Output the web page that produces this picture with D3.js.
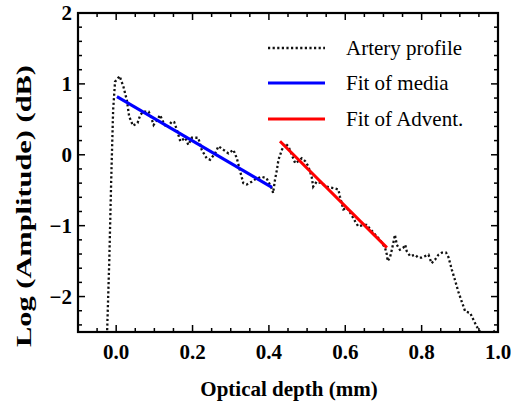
<!DOCTYPE html>
<html><head><meta charset="utf-8">
<script src="https://cdn.jsdelivr.net/npm/d3@7"></script>
<style>body{margin:0;background:#fff}svg{display:block}</style>
</head><body>
<script>
// Artery profile (optical depth mm, log amplitude dB)
const profileX = [-0.024,-0.018,-0.013,-0.008,-0.003,0.009,0.019,0.028,0.034,0.044,0.056,0.063,0.071,0.085,0.092,0.098,0.107,0.115,0.124,0.133,0.146,0.152,0.159,0.168,0.181,0.189,0.198,0.215,0.224,0.237,0.246,0.259,0.268,0.281,0.294,0.307,0.316,0.325,0.333,0.342,0.355,0.366,0.381,0.394,0.408,0.411,0.416,0.421,0.425,0.434,0.442,0.451,0.46,0.469,0.477,0.486,0.495,0.503,0.512,0.516,0.525,0.538,0.551,0.569,0.582,0.586,0.595,0.604,0.613,0.626,0.634,0.647,0.656,0.674,0.691,0.704,0.709,0.711,0.717,0.722,0.726,0.730,0.735,0.743,0.752,0.757,0.761,0.770,0.783,0.791,0.800,0.818,0.826,0.835,0.844,0.853,0.864,0.870,0.879,0.887,0.896,0.905,0.914,0.927,0.935,0.944,0.951,0.961,0.979,0.992];
const profileY = [-2.54,-1.48,-0.35,0.63,1.03,1.11,0.96,0.77,0.54,0.41,0.45,0.56,0.61,0.61,0.52,0.42,0.49,0.56,0.45,0.38,0.47,0.46,0.35,0.19,0.24,0.14,0.24,0.24,0.07,-0.05,-0.07,0.02,0.12,0.07,0.02,0.07,-0.05,-0.24,-0.40,-0.42,-0.38,-0.34,-0.31,-0.33,-0.48,-0.54,-0.35,-0.21,-0.07,0.07,0.16,0.12,0.0,-0.12,-0.09,-0.05,-0.09,-0.16,-0.31,-0.45,-0.38,-0.40,-0.45,-0.47,-0.49,-0.59,-0.77,-0.75,-0.82,-0.94,-1.01,-0.99,-0.99,-1.10,-1.20,-1.31,-1.41,-1.50,-1.45,-1.34,-1.24,-1.13,-1.27,-1.34,-1.31,-1.27,-1.36,-1.43,-1.41,-1.45,-1.45,-1.41,-1.53,-1.48,-1.41,-1.38,-1.38,-1.44,-1.62,-1.76,-1.93,-2.07,-2.21,-2.23,-2.32,-2.42,-2.48,-2.55,-2.55,-2.48];
// Linear fits
const mediaFitX = [0.002, 0.408];
const mediaFitY = [0.82, -0.46];
const adventFitX = [0.429, 0.709];
const adventFitY = [0.19, -1.31];
// Axes
const xTicks = [0.0, 0.2, 0.4, 0.6, 0.8, 1.0];
const yTicks = [-2, -1, 0, 1, 2];
const legendLabels = ["Artery profile", "Fit of media", "Fit of Advent."];

const W = 511, H = 404;
const L = 78, R = 498, T = 13, B = 332;
const svg = d3.select("body").append("svg").attr("width", W).attr("height", H);
const x = d3.scaleLinear().domain([-0.1, 1.0]).range([L, R]);
const y = d3.scaleLinear().domain([-2.5, 2]).range([B, T]);
const font = "'Liberation Serif','Times New Roman',serif";

svg.append("defs").append("clipPath").attr("id", "clip")
  .append("rect").attr("x", L).attr("y", T).attr("width", R - L).attr("height", B - T);

const line = d3.line().x(d => x(d[0])).y(d => y(d[1]));
const g = svg.append("g").attr("clip-path", "url(#clip)");

g.append("path").datum(profileX.map((v, i) => [v, profileY[i]]))
  .attr("d", line).attr("fill", "none").attr("stroke", "#111")
  .attr("stroke-width", 2.3).attr("stroke-dasharray", "2.2,2.4");
g.append("path").datum(mediaFitX.map((v, i) => [v, mediaFitY[i]]))
  .attr("d", line).attr("fill", "none").attr("stroke", "#0000ff").attr("stroke-width", 3);
g.append("path").datum(adventFitX.map((v, i) => [v, adventFitY[i]]))
  .attr("d", line).attr("fill", "none").attr("stroke", "#ff0000").attr("stroke-width", 3);

// ticks (inside, all four sides)
const xMinor = d3.range(-0.1, 1.0001, 0.05).map(v => +v.toFixed(2));
const yMinor = d3.range(-2.4, 2.0001, 0.2).map(v => +v.toFixed(2));
const tk = svg.append("g").attr("stroke", "#000").attr("stroke-width", 1.5);
xMinor.forEach(v => {
  const major = xTicks.some(t => Math.abs(t - v) < 1e-6);
  const len = major ? 7 : 4;
  tk.append("line").attr("x1", x(v)).attr("x2", x(v)).attr("y1", B).attr("y2", B - len);
  tk.append("line").attr("x1", x(v)).attr("x2", x(v)).attr("y1", T).attr("y2", T + len);
});
yMinor.forEach(v => {
  const major = yTicks.some(t => Math.abs(t - v) < 1e-6);
  const len = major ? 7 : 4;
  tk.append("line").attr("x1", L).attr("x2", L + len).attr("y1", y(v)).attr("y2", y(v));
  tk.append("line").attr("x1", R).attr("x2", R - len).attr("y1", y(v)).attr("y2", y(v));
});

// frame
svg.append("rect").attr("x", L).attr("y", T).attr("width", R - L).attr("height", B - T)
  .attr("fill", "none").attr("stroke", "#000").attr("stroke-width", 2.2);

// tick labels
svg.append("g").selectAll("text").data(xTicks).join("text")
  .attr("x", d => x(d)).attr("y", 359).attr("text-anchor", "middle")
  .attr("font-family", font).attr("font-weight", "bold").attr("font-size", 21)
  .text(d => d.toFixed(1));
svg.append("g").selectAll("text").data(yTicks).join("text")
  .attr("x", 72).attr("y", d => y(d)).attr("dy", "0.35em").attr("text-anchor", "end")
  .attr("font-family", font).attr("font-weight", "bold").attr("font-size", 21)
  .text(d => d < 0 ? "\u2212" + Math.abs(d) : d);

// axis titles
svg.append("text").attr("x", (L + R) / 2 + 1).attr("y", 396).attr("text-anchor", "middle")
  .attr("font-family", font).attr("font-weight", "bold").attr("font-size", 21)
  .text("Optical depth (mm)");
svg.append("text").attr("transform", "translate(31,206) rotate(-90)")
  .attr("text-anchor", "middle")
  .attr("textLength", 282).attr("lengthAdjust", "spacingAndGlyphs")
  .attr("font-family", font).attr("font-weight", "bold").attr("font-size", 21)
  .text("Log (Amplitude) (dB)");

// legend
const legY = [48, 83, 119];
const legStyles = [
  {stroke: "#111", w: 2.3, dash: "2.2,2.4"},
  {stroke: "#0000ff", w: 3, dash: null},
  {stroke: "#ff0000", w: 3, dash: null}
];
legendLabels.forEach((lab, i) => {
  svg.append("line").attr("x1", 268).attr("x2", 325).attr("y1", legY[i]).attr("y2", legY[i])
    .attr("stroke", legStyles[i].stroke).attr("stroke-width", legStyles[i].w)
    .attr("stroke-dasharray", legStyles[i].dash);
  svg.append("text").attr("x", 346).attr("y", legY[i]).attr("dy", "0.33em")
    .attr("font-family", font).attr("font-size", 21).text(lab);
});
</script>
</body></html>
